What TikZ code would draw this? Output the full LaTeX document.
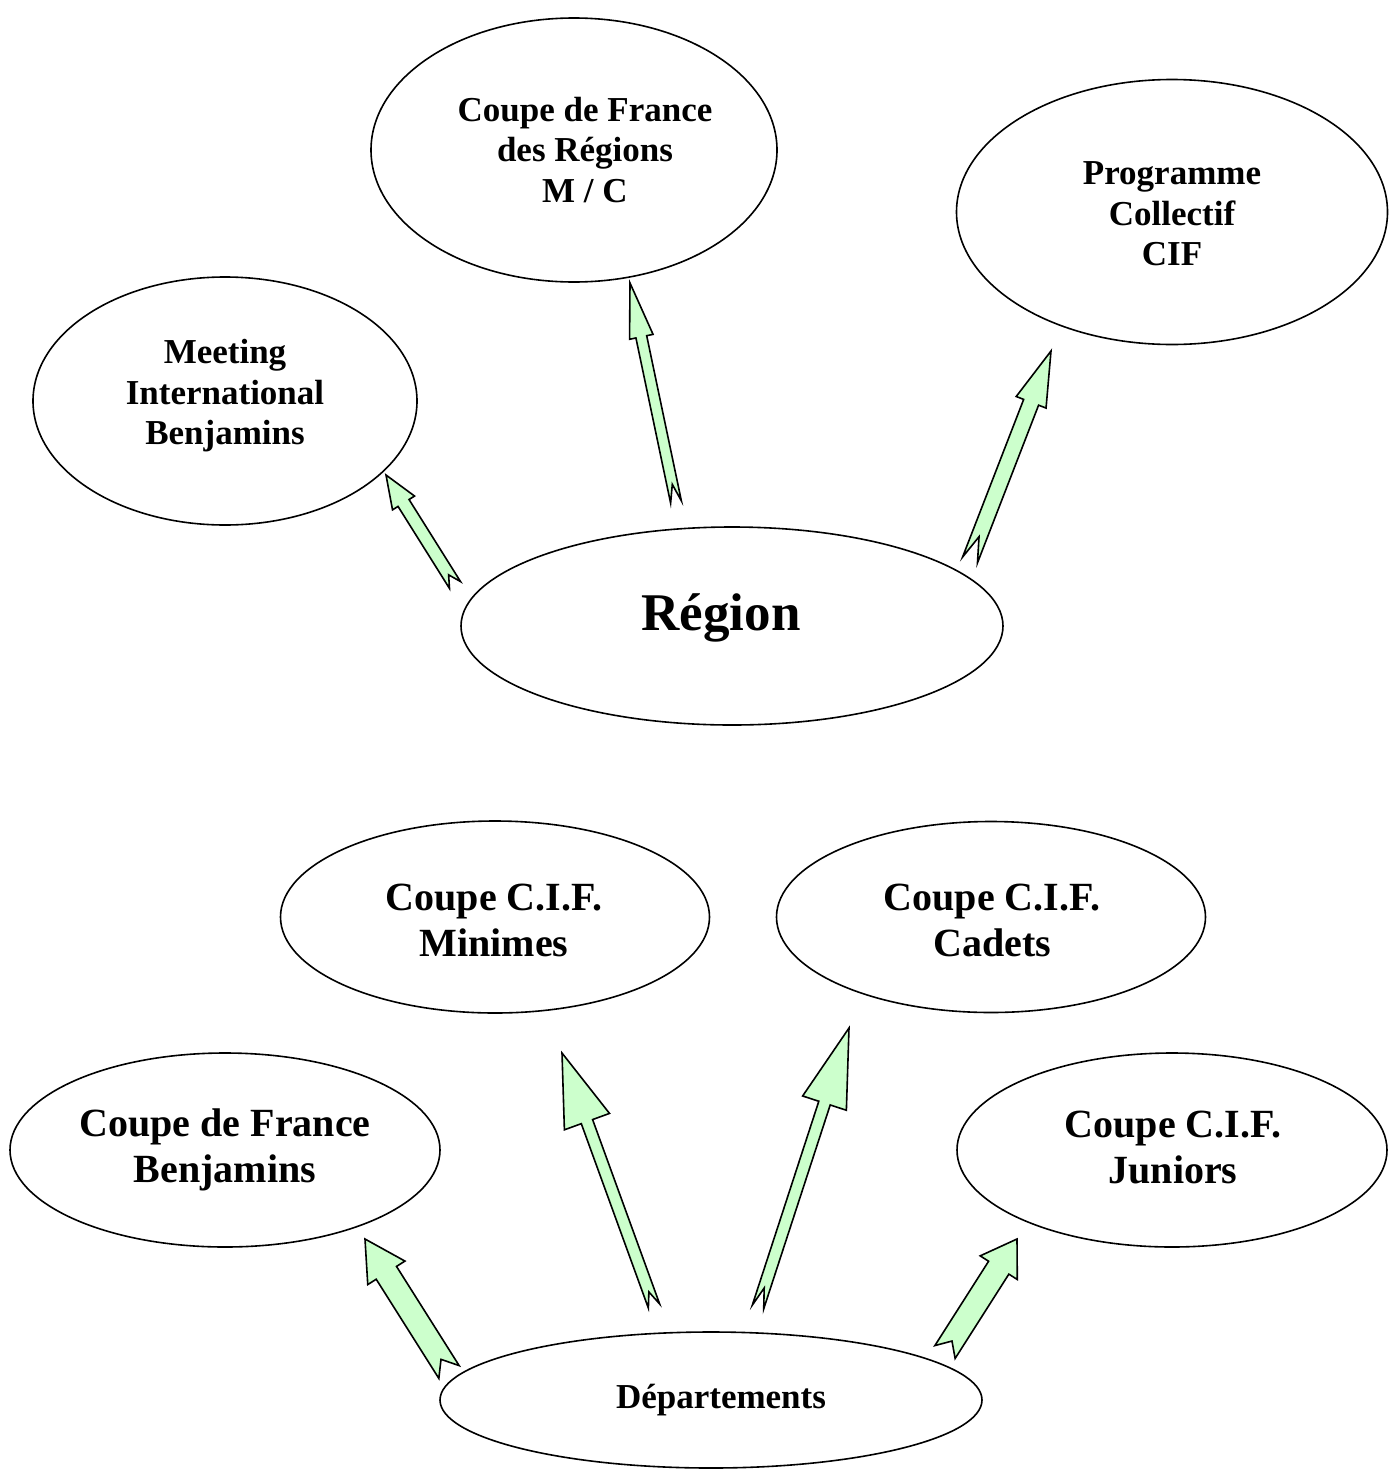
\documentclass[tikz,border=0pt]{standalone}
\usepackage{fontspec}
\setmainfont{Liberation Serif}
\usetikzlibrary{shapes.geometric,calc}
\definecolor{arrgreen}{HTML}{CCFFCC}
\tikzset{
  ell/.style={draw=black, line width=1.6pt, ellipse, inner sep=0pt},
  lbl/.style={align=center, font=\bfseries\fontsize{35}{40.5}\selectfont, inner sep=0pt},
  lblbig/.style={align=center, font=\bfseries\fontsize{40}{46}\selectfont, inner sep=0pt},
  arrowbody/.style={draw=black, fill=arrgreen, line width=1.6pt, line join=miter},
}
% tail, tip, shaft half width, head half width, head length, notch depth
\newcommand\notcharrow[6]{%
  \draw[arrowbody] let \p1=(#1), \p2=(#2), \n1={atan2(\y2-\y1,\x2-\x1)} in
    ($(#1)+(\n1+90:#3)$) --
    ($(#2)+(\n1+180:#5)+(\n1+90:#3)$) --
    ($(#2)+(\n1+180:#5)+(\n1+90:#4)$) --
    (#2) --
    ($(#2)+(\n1+180:#5)+(\n1-90:#4)$) --
    ($(#2)+(\n1+180:#5)+(\n1-90:#3)$) --
    ($(#1)+(\n1-90:#3)$) --
    ($(#1)+(\n1:#6)$) -- cycle;}
\begin{document}
\begin{tikzpicture}[x=1pt,y=-1pt]
\useasboundingbox[fill=white] (0,0) rectangle (1395,1470);

% ellipses
\node[ell, minimum width=384pt, minimum height=248pt] (meet) at (225,401) {};
\node[ell, minimum width=406pt, minimum height=264pt] (cdfr) at (574,150) {};
\node[ell, minimum width=431pt, minimum height=265pt] (prog) at (1172,212) {};
\node[ell, minimum width=542pt, minimum height=198pt] (reg) at (732,626) {};
\node[ell, minimum width=429pt, minimum height=192pt] (min) at (495,917) {};
\node[ell, minimum width=429pt, minimum height=191pt] (cad) at (991,917) {};
\node[ell, minimum width=430pt, minimum height=194pt] (cdfb) at (225,1150) {};
\node[ell, minimum width=430pt, minimum height=194pt] (jun) at (1172,1150) {};
\node[ell, minimum width=542pt, minimum height=136pt] (dep) at (711,1400) {};

% texts
\node[lbl] (meett) at (225,396) {Meeting\\International\\Benjamins};
\node[lbl] (cdfrt) at (585,150) {Coupe de France\\des Régions\\M / C};
\node[lbl] (progt) at (1172,214) {Programme\\Collectif\\CIF};
\node[anchor=base, inner sep=0pt, font=\bfseries\fontsize{53}{60}\selectfont] (regt) at (721,630) {Région};
\node[lblbig] (mint) at (494,920) {Coupe C.I.F.\\Minimes};
\node[lblbig] (cadt) at (992,920) {Coupe C.I.F.\\Cadets};
\node[lblbig] (cdfbt) at (225,1150) {Coupe de France\\Benjamins};
\node[lblbig] (junt) at (1173,1147) {Coupe C.I.F.\\Juniors};
\node[lbl] (dept) at (721,1400) {Départements};

% arrow end points
\coordinate (a1s) at (455,585);  \coordinate (a1e) at (386,475);
\coordinate (a2s) at (676,502);  \coordinate (a2e) at (630,283);
\coordinate (a3s) at (970,560);  \coordinate (a3e) at (1051,351);
\coordinate (a4s) at (449,1372); \coordinate (a4e) at (365,1239);
\coordinate (a5s) at (654,1306); \coordinate (a5e) at (562,1053);
\coordinate (a6s) at (758,1307); \coordinate (a6e) at (849,1028);
\coordinate (a7s) at (945,1352); \coordinate (a7e) at (1017,1239);

\notcharrow{a1s}{a1e}{6.5pt}{13pt}{33pt}{12pt}
\notcharrow{a2s}{a2e}{5.5pt}{12pt}{55pt}{18pt}
\notcharrow{a3s}{a3e}{8pt}{16pt}{55pt}{25pt}
\notcharrow{a4s}{a4e}{12pt}{22pt}{40pt}{15pt}
\notcharrow{a5s}{a5e}{6pt}{24pt}{73pt}{15pt}
\notcharrow{a6s}{a6e}{6pt}{23pt}{79pt}{20pt}
\notcharrow{a7s}{a7e}{12pt}{22pt}{34pt}{13pt}
\end{tikzpicture}
\end{document}
